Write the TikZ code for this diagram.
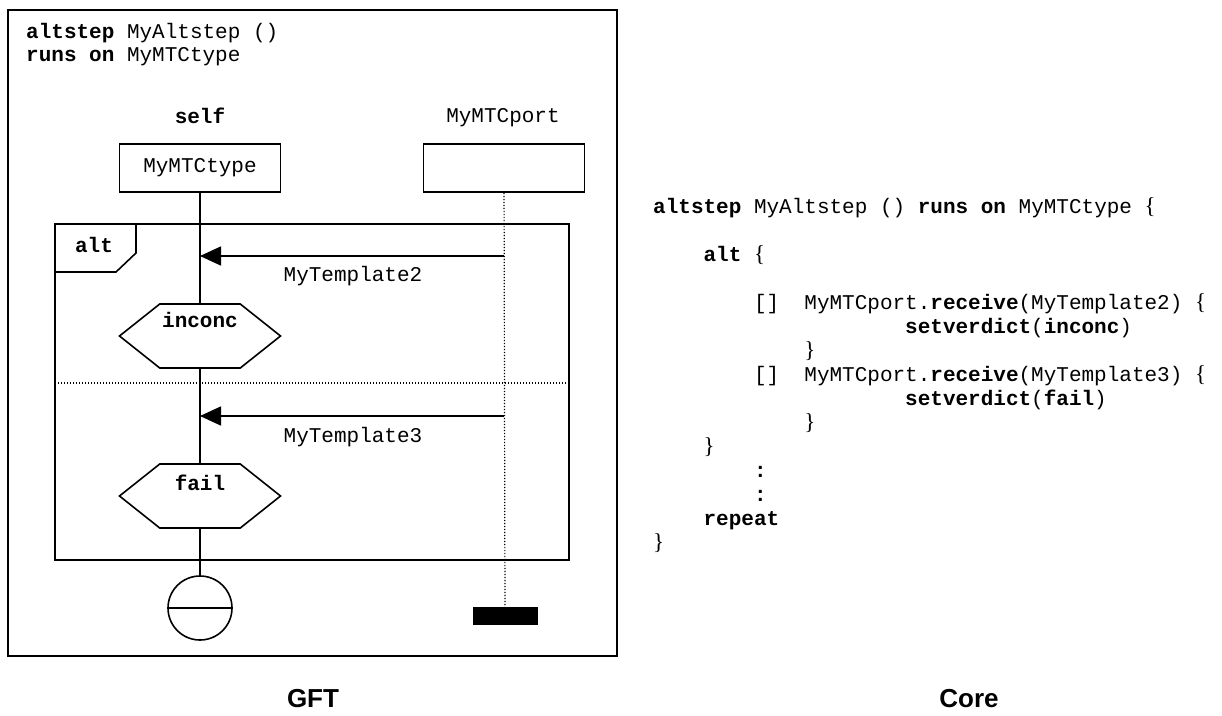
\documentclass[tikz,border=0pt]{standalone}
\usepackage{fontspec}
\setmainfont{Liberation Serif}
\setmonofont{Liberation Mono}
\newfontfamily\captionfont{Liberation Sans}
\usetikzlibrary{arrows.meta,shapes.symbols}

\newcommand{\kw}[1]{\textbf{#1}}
\newcommand{\lbr}{{\fontsize{23}{24}\rmfamily\{}}
\newcommand{\rbr}{{\fontsize{23}{24}\rmfamily\}}}

\tikzset{
  code/.style={font=\fontsize{21}{24}\selectfont\ttfamily, inner sep=0pt, anchor=base west},
  gfttext/.style={font=\fontsize{21}{24}\selectfont\ttfamily, inner sep=0pt, anchor=base},
  instbox/.style={draw, line width=1.6pt, minimum width=161pt, minimum height=48pt, inner sep=0pt,
    font=\fontsize{21}{24}\selectfont\ttfamily},
  verdict/.style={draw, line width=1.6pt, signal, signal to=west and east, signal from=nowhere,
    signal pointer angle=77, minimum width=161pt, minimum height=64pt, inner sep=0pt},
  msg/.style={line width=1.6pt, -{Triangle[length=21pt,width=19pt]}},
  dotline/.style={line width=1.2pt, dash pattern=on 1.2pt off 1.8pt},
  lifeline/.style={line width=1.6pt},
  captiontext/.style={font=\fontsize{26}{30}\captionfont\bfseries, inner sep=0pt, anchor=base}
}

\begin{document}
\begin{tikzpicture}[x=1pt,y=-1pt]
  \useasboundingbox (0,0) rectangle (1222,715);

  % GFT side
  \draw[line width=1.6pt] (8,10) rectangle (617,656);
  \node[code] (gfthead1) at (26,38) {\kw{altstep} MyAltstep ()};
  \node[code] (gfthead2) at (26,61) {\kw{runs on} MyMTCtype};

  \node[gfttext] (selflbl) at (200,123) {\kw{self}};
  \node[gfttext] (portlbl) at (503,122) {MyMTCport};
  \node[instbox] (selfbox) at (200,168) {MyMTCtype};
  \node[instbox] (portbox) at (504,168) {};

  % alt frame
  \draw[line width=1.6pt] (55,224) rectangle (569,560);
  \draw[line width=1.6pt] (55,272) -- (116,272) -- (136,253) -- (136,224);
  \node[gfttext] (altlbl) at (94,252) {\kw{alt}};
  \draw[dotline] (55,383) -- (569,383);

  \node[verdict] (inconc) at (200,336) {};
  \node[gfttext] (inconclbl) at (200,327) {\kw{inconc}};
  \node[verdict] (fail) at (200,496) {};
  \node[gfttext] (faillbl) at (200,490) {\kw{fail}};

  \node[circle, draw, line width=1.6pt, minimum size=64pt, inner sep=0pt] (selfend) at (200,608) {};
  \draw[lifeline] (selfend.west) -- (selfend.east);
  \node[fill, minimum width=65pt, minimum height=18pt, inner sep=0pt] (portstop) at (505,616) {};

  \draw[lifeline] (selfbox) -- (inconc);
  \draw[lifeline] (inconc) -- (fail);
  \draw[lifeline] (fail) -- (selfend);
  \draw[dotline] (portbox) -- (portstop);

  \coordinate (portrx1) at (504,256);
  \coordinate (selfrx1) at (200,256);
  \coordinate (portrx2) at (504,416);
  \coordinate (selfrx2) at (200,416);
  \draw[msg] (portrx1) -- (selfrx1);
  \draw[msg] (portrx2) -- (selfrx2);
  \node[gfttext] (tmpl2) at (353,281) {MyTemplate2};
  \node[gfttext] (tmpl3) at (353,442) {MyTemplate3};

  % core side
  \node[code] (core1) at (653,213) {\kw{altstep} MyAltstep () \kw{runs on} MyMTCtype \lbr};
  \node[code] (core3) at (703.4,261) {\kw{alt} \lbr};
  \node[code] (core5a) at (753.8,309) {[]};
  \node[code] (core5b) at (804.2,309) {MyMTCport.\kw{receive}(MyTemplate2) \lbr};
  \node[code] (core6) at (905,333) {\kw{setverdict}(\kw{inconc})};
  \node[code] (core7) at (804.2,357) {\rbr};
  \node[code] (core8a) at (753.8,381) {[]};
  \node[code] (core8b) at (804.2,381) {MyMTCport.\kw{receive}(MyTemplate3) \lbr};
  \node[code] (core9) at (905,405) {\kw{setverdict}(\kw{fail})};
  \node[code] (core10) at (804.2,429) {\rbr};
  \node[code] (core11) at (703.4,453) {\rbr};
  \node[code] (core12) at (753.8,477) {\kw{:}};
  \node[code] (core13) at (753.8,501) {\kw{:}};
  \node[code] (core14) at (703.4,525) {\kw{repeat}};
  \node[code] (core15) at (653,549) {\rbr};

  \node[captiontext] (gftcap) at (313,707) {GFT};
  \node[captiontext] (corecap) at (969,707) {Core};
\end{tikzpicture}
\end{document}
